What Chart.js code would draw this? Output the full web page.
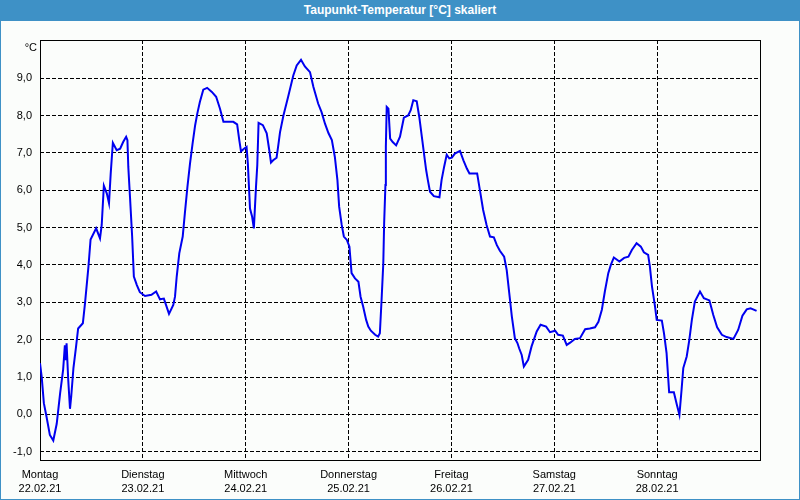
<!DOCTYPE html>
<html>
<head>
<meta charset="utf-8">
<script src="https://cdn.jsdelivr.net/npm/chart.js@4"></script>
<style>
	body { margin: 0; background: #fff; }
	#frame {
		position: relative;
		width: 800px;
		height: 500px;
		box-sizing: border-box;
		border: 1px solid #3e91c6;
		background: #fbfdfb;
		overflow: hidden;
	}
	#title {
		position: absolute;
		left: -1px;
		top: -1px;
		width: 800px;
		height: 21px;
		background: #3e91c6;
		color: #fff;
		font: bold 12px "Liberation Sans", Arial, sans-serif;
		line-height: 21px;
		text-align: center;
		z-index: 2;
	}
	#chart { position: absolute; left: 0; top: 19px; }
</style>
</head>
<body>
<div id="frame">
	<div id="title">Taupunkt-Temperatur [°C] skaliert</div>
	<canvas id="chart" width="798" height="479"></canvas>
</div>
<script>
// days (x axis)
const dayNames = ["Montag", "Dienstag", "Mittwoch", "Donnerstag", "Freitag", "Samstag", "Sonntag"];
const dates = ["22.02.21", "23.02.21", "24.02.21", "25.02.21", "26.02.21", "27.02.21", "28.02.21"];
const yTicks = [-1, 0, 1, 2, 3, 4, 5, 6, 7, 8, 9];

// hours since Mon 00:00
const hours = [
	0, 0.4, 0.9, 1.5, 2.3, 3.1, 3.9, 4.7, 5.4, 5.8, 6.0, 6.2, 6.6, 7.0, 7.3, 7.8, 8.4, 8.9, 10.0, 10.5,
	11.3, 11.8, 13.1, 14.0, 14.4, 14.9, 15.6, 16.1, 16.5, 17.0, 17.9, 18.7, 19.4, 20.1, 20.4, 20.6, 21.0, 21.5, 21.9, 22.6,
	23.3, 24.5, 26.0, 27.1, 28.0, 28.9, 29.4, 30.1, 31.1, 31.5, 31.9, 32.5, 33.3, 33.8, 34.4, 35.0, 35.6, 36.2, 36.7, 37.3,
	38.1, 39.0, 40.1, 41.1, 42.0, 42.8, 45.1, 46.0, 46.5, 46.9, 47.6, 48.2, 48.5, 49.0, 49.5, 49.9, 50.4, 50.7, 51.0, 52.0,
	52.9, 53.5, 53.9, 54.4, 55.2, 55.6, 56.0, 56.8, 57.9, 59.1, 59.9, 60.9, 61.8, 63.0, 63.8, 64.9, 65.7, 66.5, 67.3, 68.1,
	68.8, 69.4, 69.8, 70.4, 70.9, 71.6, 72.2, 72.7, 73.5, 74.3, 74.8, 75.4, 76.1, 76.6, 77.2, 78.2, 78.9, 79.3, 79.7, 80.1,
	80.3, 80.6, 80.7, 80.9, 81.3, 81.7, 82.3, 83.1, 84.0, 84.9, 85.9, 86.5, 87.1, 87.9, 88.5, 89.1, 89.6, 90.1, 90.5, 91.0,
	91.9, 93.2, 93.7, 94.3, 94.9, 95.5, 96.1, 96.8, 98.0, 98.8, 99.6, 100.2, 102.0, 102.7, 103.4, 104.2, 105.0, 105.9, 106.6, 107.3,
	108.3, 108.9, 109.5, 110.1, 110.8, 111.4, 111.8, 112.4, 112.9, 113.9, 114.7, 115.9, 116.8, 118.1, 119.0, 120.2, 120.9, 122.0, 122.9, 123.7,
	124.8, 126.0, 127.2, 128.3, 129.5, 130.3, 131.1, 131.8, 132.6, 133.2, 133.9, 135.2, 136.3, 137.3, 138.1, 139.2, 140.2, 140.9, 141.9, 142.3,
	142.8, 143.5, 143.9, 145.1, 145.6, 146.2, 146.8, 147.9, 148.6, 149.2, 149.7, 150.1, 150.9, 151.5, 152.1, 152.8, 154.0, 154.9, 156.2, 157.1,
	158.0, 159.1, 160.2, 161.8, 162.9, 163.9, 164.9, 165.8, 166.4, 167.2
];
// Taupunkt [°C]
const dewPoint = [
	1.37, 1.0, 0.3, -0.05, -0.55, -0.7, -0.25, 0.57, 1.2, 1.85, 1.45, 1.9, 0.9, 0.15, 0.5, 1.24, 1.8, 2.3, 2.44, 2.97,
	3.95, 4.68, 4.98, 4.71, 5.07, 6.12, 5.91, 5.65, 6.45, 7.27, 7.07, 7.11, 7.29, 7.43, 7.34, 6.63, 5.82, 4.76, 3.69, 3.46,
	3.27, 3.17, 3.2, 3.29, 3.08, 3.1, 2.93, 2.69, 2.93, 3.15, 3.69, 4.31, 4.76, 5.38, 6.09, 6.71, 7.25, 7.74, 8.05, 8.36,
	8.69, 8.74, 8.63, 8.5, 8.18, 7.83, 7.83, 7.76, 7.34, 7.04, 7.11, 7.16, 6.71, 5.51, 5.29, 4.98, 6.09, 6.67, 7.8, 7.74,
	7.52, 7.07, 6.74, 6.8, 6.87, 7.2, 7.55, 8.0, 8.5, 9.07, 9.34, 9.49, 9.31, 9.16, 8.76, 8.32, 8.09, 7.78, 7.53, 7.34,
	6.89, 6.27, 5.56, 5.07, 4.76, 4.67, 4.49, 3.78, 3.64, 3.55, 3.15, 2.89, 2.53, 2.35, 2.24, 2.13, 2.08, 2.17, 3.06, 4.04,
	5.11, 6.14, 7.16, 8.23, 8.18, 7.38, 7.29, 7.2, 7.43, 7.94, 8.0, 8.14, 8.41, 8.38, 7.96, 7.43, 6.98, 6.54, 6.27, 5.96,
	5.84, 5.81, 6.27, 6.63, 6.95, 6.85, 6.87, 6.98, 7.05, 6.8, 6.58, 6.45, 6.45, 5.96, 5.47, 5.07, 4.76, 4.74, 4.53, 4.38,
	4.22, 3.86, 3.24, 2.62, 2.04, 1.91, 1.77, 1.59, 1.28, 1.46, 1.82, 2.22, 2.4, 2.35, 2.2, 2.24, 2.13, 2.11, 1.86, 1.92,
	2.02, 2.04, 2.28, 2.3, 2.33, 2.48, 2.8, 3.29, 3.78, 4.0, 4.2, 4.09, 4.19, 4.22, 4.4, 4.58, 4.49, 4.34, 4.27, 3.96,
	3.42, 2.89, 2.53, 2.51, 2.17, 1.64, 0.59, 0.59, 0.26, -0.01, 0.66, 1.24, 1.55, 1.99, 2.53, 3.02, 3.29, 3.11, 3.05, 2.66,
	2.33, 2.13, 2.07, 2.02, 2.26, 2.64, 2.81, 2.84, 2.81, 2.77
];

const tickFont = { family: "'Liberation Sans', Arial, sans-serif", size: 11, lineHeight: 1.3 };

// frame round the plot + unit label
const framePlugin = {
	id: "frame",
	beforeDatasetsDraw(chart) {
		const a = chart.chartArea;
		const ctx = chart.ctx;
		ctx.save();
		ctx.strokeStyle = "#000";
		ctx.lineWidth = 1;
		ctx.setLineDash([]);
		ctx.strokeRect(a.left + 0.5, a.top + 0.5, a.right - a.left, a.bottom - a.top);
		ctx.fillStyle = "#000";
		ctx.font = "11px 'Liberation Sans', Arial, sans-serif";
		ctx.textAlign = "right";
		ctx.textBaseline = "alphabetic";
		ctx.fillText("°C", a.left - 3, a.top + 11);
		ctx.restore();
	},
};

new Chart(document.getElementById("chart"), {
	type: "line",
	data: {
		datasets: [
			{
				data: hours.map((h, i) => ({ x: h, y: dewPoint[i] })),
				borderColor: "#0000f0",
				borderWidth: 2,
				pointRadius: 0,
				tension: 0,
				fill: false,
			},
		],
	},
	options: {
		responsive: false,
		animation: false,
		devicePixelRatio: 1,
		layout: { padding: { left: 0, top: 20, right: 39, bottom: 0 } },
		plugins: { legend: { display: false }, tooltip: { enabled: false } },
		scales: {
			x: {
				type: "linear",
				min: 0,
				max: 168,
				afterBuildTicks: (axis) => {
					axis.ticks = dayNames.map((d, i) => ({ value: i * 24 }));
				},
				afterFit: (axis) => {
					axis.height = 39;
				},
				ticks: {
					autoSkip: false,
					maxRotation: 0,
					padding: 8,
					color: "#000",
					font: tickFont,
					callback: (v) => {
						const i = Math.round(v / 24);
						return [dayNames[i], dates[i]];
					},
				},
				grid: { color: "#000", lineWidth: 1, drawTicks: false },
				border: { display: false, dash: [4, 2] },
			},
			y: {
				min: -1.22,
				max: 10.02,
				afterBuildTicks: (axis) => {
					axis.ticks = yTicks.map((v) => ({ value: v }));
				},
				afterFit: (axis) => {
					axis.width = 39;
				},
				ticks: {
					padding: 8,
					color: "#000",
					font: tickFont,
					callback: (v) => v.toFixed(1).replace(".", ","),
				},
				grid: { color: "#000", lineWidth: 1, drawTicks: false },
				border: { display: false, dash: [4, 2] },
			},
		},
	},
	plugins: [framePlugin],
});
</script>
</body>
</html>
